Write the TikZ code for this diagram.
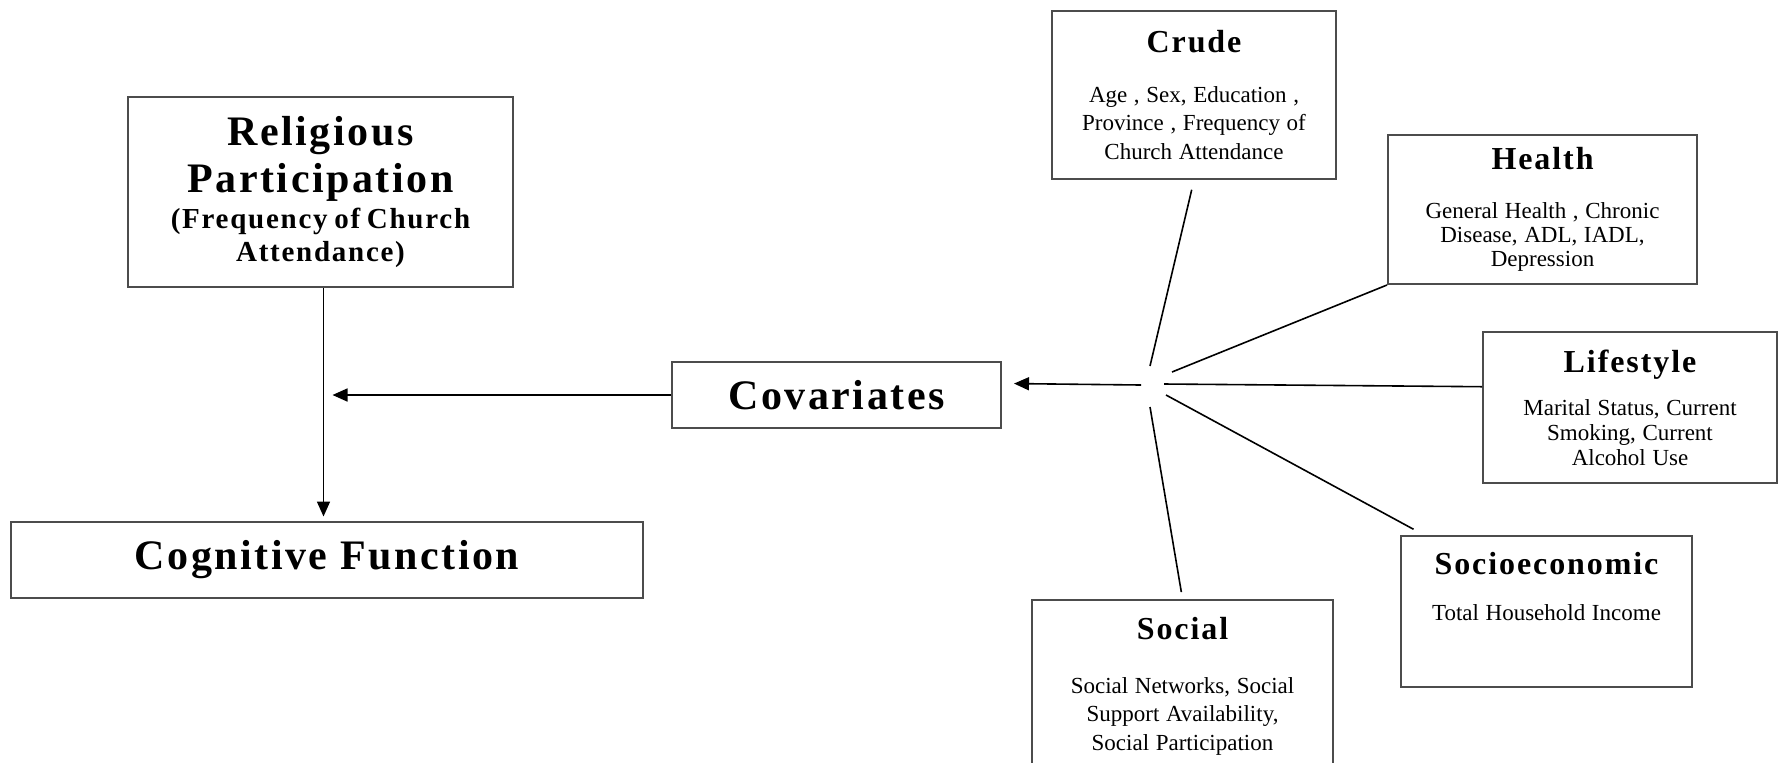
\documentclass[tikz,border=0pt]{standalone}
\usepackage{fontspec}
\setmainfont{Liberation Serif}
\newfontfamily\spaced[LetterSpace=6]{Liberation Serif}
\usetikzlibrary{arrows.meta}

% heading and item list of one group of covariates
\newcommand{\grouptext}[4]{%
  {\spaced\bfseries\fontsize{16}{18}\selectfont #1\par}%
  \vspace{#2}%
  {\fontsize{11.5}{#3}\selectfont #4\par}}

\begin{document}
\begin{tikzpicture}[x=.5pt, y=-.5pt,
    frame/.style={draw=black!70, line width=1pt, align=center, inner sep=0pt},
    bigtitle/.style={font=\spaced\bfseries\fontsize{21}{23}\selectfont},
    link/.style={line width=.8pt},
    arrow/.style={link, -{Triangle[length=7.5pt, width=6.5pt]}}]
  \clip (0,0) rectangle (1781,762);
  \node [frame, minimum width=192.5pt, minimum height=95pt, text width=185pt] at (320.5,192) (rel)
    {{\spaced\bfseries\fontsize{21}{23.25}\selectfont Religious\\Participation\par}\vspace{1.5pt}%
     {\spaced\bfseries\fontsize{14.5}{16.5}\selectfont (Frequency of Church\\Attendance)\par}};
  \node [frame, bigtitle, minimum width=316pt, minimum height=38pt] at (327,559.5) (cog) {Cognitive Function};
  \node [frame, bigtitle, minimum width=164.5pt, minimum height=33pt] at (836.5,395) (cov) {Covariates};
  \node [frame, minimum width=142pt, minimum height=84pt, text width=136pt] at (1194,95) (crude)
    {\grouptext{Crude}{10.75pt}{14.25pt}{Age , Sex, Education ,\\Province , Frequency of\\Church Attendance}};
  \node [frame, minimum width=154.5pt, minimum height=74.5pt, text width=148pt] at (1542.5,209.5) (health)
    {\grouptext{Health}{12.5pt}{12pt}{General Health , Chronic\\Disease, ADL, IADL,\\Depression}};
  \node [frame, minimum width=147pt, minimum height=75.5pt, text width=141pt] at (1630,407.5) (life)
    {\grouptext{Lifestyle}{9pt}{12.5pt}{Marital Status, Current\\Smoking, Current\\Alcohol Use}};
  \node [frame, minimum width=145.5pt, minimum height=75.5pt, text width=140pt, text depth=48pt] at (1546.5,611.5) (socio)
    {\grouptext{Socioeconomic}{11pt}{12pt}{Total Household Income}};
  \node [frame, minimum width=150.5pt, minimum height=86pt, text width=144pt] at (1182.5,686) (social)
    {\grouptext{Social}{12.75pt}{14.25pt}{Social Networks, Social\\Support Availability,\\Social Participation}};

  \coordinate (s0) at (1141,385);
  \coordinate (s1) at (1150,366);
  \coordinate (s2) at (1172,372);
  \coordinate (s3) at (1164,384);
  \coordinate (s4) at (1166,395);
  \coordinate (s5) at (1150,407);

  \draw [arrow, shorten >=2pt] ([xshift=1.5pt]rel.south) -- ([xshift=1.5pt]rel.south |- cog.north);
  \draw [arrow, shorten >=4.5pt] (cov.west) -- ([xshift=1.5pt]rel.south |- cov.west);
  \draw [arrow, shorten >=6pt] (s0) -- (cov.4);
  \draw [link, shorten >=5pt] (s1) -- (crude.south);
  \draw [link] (s2) -- (health.south west);
  \draw [link] (s3) -- (life.172);
  \draw [link, shorten >=6pt] (s4) -- (socio.148);
  \draw [link, shorten >=3.5pt] (s5) -- (social.north);
\end{tikzpicture}
\end{document}
